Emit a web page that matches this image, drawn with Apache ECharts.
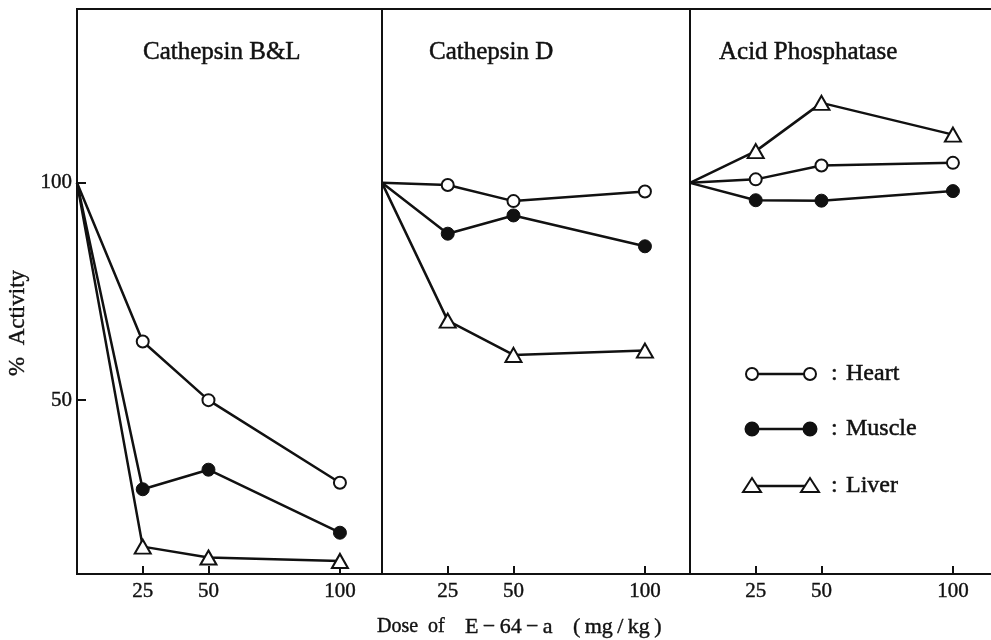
<!DOCTYPE html>
<html>
<head>
<meta charset="utf-8">
<script src="https://cdn.jsdelivr.net/npm/echarts@6/dist/echarts.min.js"></script>
<style>
  html, body { margin: 0; padding: 0; background: #fff; }
  #chart { width: 991px; height: 640px; }
</style>
</head>
<body>
<div id="chart"></div>
<script>
// Dose levels (mg/kg) and % activity per enzyme and tissue
const doses = [0, 25, 50, 100];
const doseTicks = [25, 50, 100];
const activityTicks = [50, 100];
const panelTitles = ['Cathepsin B&L', 'Cathepsin D', 'Acid Phosphatase'];
const tissues = ['Heart', 'Muscle', 'Liver'];

const cathepsinBL_heart  = [100, 63.5, 50.0, 31.0];
const cathepsinBL_muscle = [100, 29.5, 34.0, 19.5];
const cathepsinBL_liver  = [100, 16.3, 13.8, 13.0];

const cathepsinD_heart  = [100, 99.5, 95.8, 98.0];
const cathepsinD_muscle = [100, 88.3, 92.5, 85.4];
const cathepsinD_liver  = [100, 68.3, 60.4, 61.4];

const acidP_heart  = [100, 100.8, 104.0, 104.6];
const acidP_muscle = [100, 96.0, 95.9, 98.1];
const acidP_liver  = [100, 107.3, 118.4, 111.1];

const panels = [
  [cathepsinBL_heart, cathepsinBL_muscle, cathepsinBL_liver],
  [cathepsinD_heart, cathepsinD_muscle, cathepsinD_liver],
  [acidP_heart, acidP_muscle, acidP_liver]
];

const FONT = '"Liberation Serif", "DejaVu Serif", serif';
const INK = '#111';

// marker style per tissue
const markerStyle = {
  Heart:  { symbol: 'circle',   symbolSize: 12, itemStyle: { color: '#fff', borderColor: INK, borderWidth: 2 } },
  Muscle: { symbol: 'circle',   symbolSize: 13, itemStyle: { color: INK, borderColor: INK, borderWidth: 1 } },
  Liver:  { symbol: 'triangle', symbolSize: [16, 14], itemStyle: { color: '#fff', borderColor: INK, borderWidth: 2 } }
};

// panels share one x scale (px per mg/kg); the last one runs past the right edge
const PX_PER_UNIT = 305 / 116;
const gridLefts = [77, 382, 690];
const gridWidths = [305, 308, 330];
const TOP = 9, HEIGHT = 565;

const grids = gridLefts.map((l, i) => ({
  left: l, top: TOP, width: gridWidths[i], height: HEIGHT,
  outerBoundsMode: 'none', containLabel: false,
  show: true, borderColor: INK, borderWidth: 2, backgroundColor: 'transparent'
}));

const labelText = { color: INK, fontFamily: FONT, fontSize: 21, textBorderColor: INK, textBorderWidth: 0.4 };

const xAxes = gridLefts.map((_, i) => ({
  gridIndex: i, type: 'value', min: 0, max: gridWidths[i] / PX_PER_UNIT,
  axisLine: { show: true, onZero: false, lineStyle: { color: INK, width: 2 } },
  axisTick: { show: true, inside: true, length: 8, customValues: doseTicks, lineStyle: { color: INK, width: 2 } },
  axisLabel: Object.assign({ show: true, customValues: doseTicks, margin: 7 }, labelText),
  splitLine: { show: false }
}));

const yAxes = gridLefts.map((_, i) => ({
  gridIndex: i, type: 'value', min: 10, max: 140,
  axisLine: { show: true, lineStyle: { color: INK, width: 2 } },
  axisTick: { show: i === 0, inside: true, length: 9, customValues: activityTicks, lineStyle: { color: INK, width: 2 } },
  axisLabel: Object.assign({ show: i === 0, customValues: activityTicks, margin: 5 }, labelText),
  splitLine: { show: false }
}));

const series = [];
panels.forEach((rows, p) => {
  rows.forEach((vals, t) => {
    const name = tissues[t];
    const m = markerStyle[name];
    const data = doses.map((d, k) => [d, vals[k]]);
    // the shared origin point carries no marker
    data[0] = { value: [doses[0], vals[0]], symbol: 'none' };
    series.push({
      name: name, type: 'line', xAxisIndex: p, yAxisIndex: p,
      data: data,
      symbol: m.symbol, symbolSize: m.symbolSize, itemStyle: m.itemStyle,
      showAllSymbol: true,
      lineStyle: { color: INK, width: 2.5 },
      z: 3, animation: false
    });
  });
});

const titles = panelTitles.map((t, i) => ({
  text: t, left: [143, 429, 719][i], top: 40, padding: 0,
  textStyle: { fontFamily: FONT, fontSize: 25, fontWeight: 'normal', color: INK,
    textBorderColor: INK, textBorderWidth: 0.5 }
}));

// legend keys drawn inside the third panel
const legendRows = [374, 429, 486];
const graphics = [];
legendRows.forEach((y, k) => {
  const name = tissues[k];
  graphics.push({ type: 'line', shape: { x1: 752, y1: y, x2: 810, y2: y }, style: { stroke: INK, lineWidth: 2.5 } });
  [752, 810].forEach(cx => {
    if (name === 'Liver') {
      graphics.push({ type: 'polygon', shape: { points: [[cx, y - 8], [cx - 9, y + 6], [cx + 9, y + 6]] },
        style: { fill: '#fff', stroke: INK, lineWidth: 2 }, z: 10 });
    } else {
      graphics.push({ type: 'circle', shape: { cx: cx, cy: y, r: name === 'Heart' ? 6 : 6.5 },
        style: { fill: name === 'Heart' ? '#fff' : INK, stroke: INK, lineWidth: 2 }, z: 10 });
    }
  });
  graphics.push({ type: 'text', x: 831, y: y, style: { text: ':', fontFamily: FONT, fontSize: 24,
    fill: INK, stroke: INK, lineWidth: 0.5, textVerticalAlign: 'middle' } });
  graphics.push({ type: 'text', x: 846, y: y, style: { text: name, fontFamily: FONT, fontSize: 24,
    fill: INK, stroke: INK, lineWidth: 0.5, textVerticalAlign: 'middle' } });
});

// x axis caption, set word by word with wide spacing
const captionWords = ['Dose', 'of', 'E\u2009\u2212\u200964\u2009\u2212\u2009a', '(\u2009mg\u2009/\u2009kg\u2009)'];
const captionLefts = [377, 428, 465, 573];
const captionSizes = [20, 20, 22, 22];
captionWords.forEach((w, i) => {
  graphics.push({ type: 'text', x: captionLefts[i], y: 627, style: { text: w, fontFamily: FONT,
    fontSize: captionSizes[i], fill: INK, stroke: INK, lineWidth: 0.4, textVerticalAlign: 'middle' } });
});
graphics.push({ type: 'text', x: 18, y: 323, rotation: Math.PI / 2, style: { text: '%  Activity', fontFamily: FONT,
  fontSize: 23, fill: INK, stroke: INK, lineWidth: 0.4, textAlign: 'center', textVerticalAlign: 'middle' } });

const chart = echarts.init(document.getElementById('chart'), null, { renderer: 'canvas' });
chart.setOption({
  backgroundColor: '#fff',
  animation: false,
  title: titles,
  grid: grids,
  xAxis: xAxes,
  yAxis: yAxes,
  series: series,
  graphic: graphics
});
</script>
</body>
</html>
